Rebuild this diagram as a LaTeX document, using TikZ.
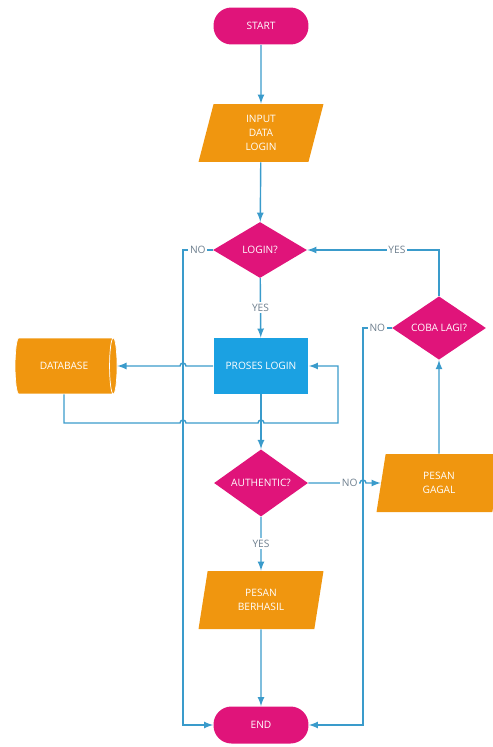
\documentclass[tikz,border=0pt]{standalone}
\usepackage{fontspec}
\setmainfont{Open Sans}
\usetikzlibrary{shapes.geometric,calc}

\definecolor{fcmagenta}{HTML}{E0147A}
\definecolor{fcorange}{HTML}{F0960F}
\definecolor{fcblue}{HTML}{1BA1E2}
\definecolor{fcline}{HTML}{3A9BCB}
\definecolor{fclabel}{HTML}{6E7F8E}

\tikzset{
    boxtext/.style={text=white, font=\fontsize{5.8}{8}\selectfont, align=center, inner sep=0pt},
    terminal/.style={boxtext, rectangle, rounded corners=0.36cm, fill=fcmagenta,
        minimum width=1.9cm, minimum height=0.74cm},
    io/.style={boxtext, trapezium, trapezium left angle=67, trapezium right angle=113,
        trapezium stretches body, fill=fcorange, minimum width=2.5cm, minimum height=1.16cm},
    decision/.style={boxtext, diamond, fill=fcmagenta, minimum width=1.88cm, minimum height=1.12cm},
    process/.style={boxtext, rectangle, fill=fcblue, minimum width=1.9cm, minimum height=1.12cm},
    store/.style={boxtext, cylinder, aspect=1, cylinder uses custom fill,
        cylinder body fill=fcorange, cylinder end fill=fcorange, draw=white, thin,
        minimum width=1.12cm, minimum height=2.04cm},
    lbl/.style={fill=white, inner sep=1pt, text=fclabel, font=\fontsize{5.8}{7}\selectfont},
    flow/.style={draw=fcline, line width=0.8pt}
}

\begin{document}
\begin{tikzpicture}[>=latex, x=0.02cm, y=-0.02cm]
    \useasboundingbox (0,0) rectangle (493,747);

    \node[terminal] (start) at (261,26) {START};
    \node[io] (input) at (261,133) {INPUT\\DATA\\LOGIN};
    \node[decision] (login) at (260,250) {LOGIN?};
    \node[process] (proses) at (261,366) {PROSES LOGIN};
    \node[store] (db) at (64,366) {DATABASE};
    \node[decision] (auth) at (261,483) {AUTHENTIC?};
    \node[io] (gagal) at (439,483) {PESAN\\GAGAL};
    \node[decision] (coba) at (439,328) {COBA LAGI?};
    \node[io] (berhasil) at (261,600) {PESAN\\BERHASIL};
    \node[terminal] (end) at (261,725) {END};

    % jalur samping dan garis bawah database
    \coordinate (leftrail) at (183,0);
    \coordinate (rightrail) at (363,0);
    \coordinate (bus) at (338,423);

    \draw[flow,->] (start) -- (input);
    \draw[flow,->] (input) -- (login);
    \draw[flow,->] (login) -- node[lbl]{YES} (proses);
    \draw[flow,->] (login.west) -- node[lbl]{NO} (login.west -| leftrail) |- (end.west);

    \draw[flow,->] (proses.west) -- ($(proses.west -| leftrail)+(3,0)$)
        arc[start angle=0,end angle=-180,radius=3] -- (db.east);
    \draw[flow,->] (db.south) |- ($(bus -| leftrail)+(-3,0)$)
        arc[start angle=180,end angle=360,radius=3] -- ($(bus -| proses)+(-3,0)$)
        arc[start angle=180,end angle=360,radius=3] -- (bus) |- (proses.east);

    \draw[flow,->] (proses) -- (auth);
    \draw[flow,->] (auth.east) -- node[lbl,pos=0.8]{NO} ($(auth.east -| rightrail)+(-3,0)$)
        arc[start angle=180,end angle=360,radius=3] -- (gagal.west);
    \draw[flow,->] (gagal) -- (coba);
    \draw[flow,->] (coba.north) |- node[lbl,pos=0.66]{YES} (login.east);
    \draw[flow,->] (coba.west) -- node[lbl]{NO} (coba.west -| rightrail) |- (end.east);

    \draw[flow,->] (auth) -- node[lbl]{YES} (berhasil);
    \draw[flow,->] (berhasil) -- (end);
\end{tikzpicture}
\end{document}
